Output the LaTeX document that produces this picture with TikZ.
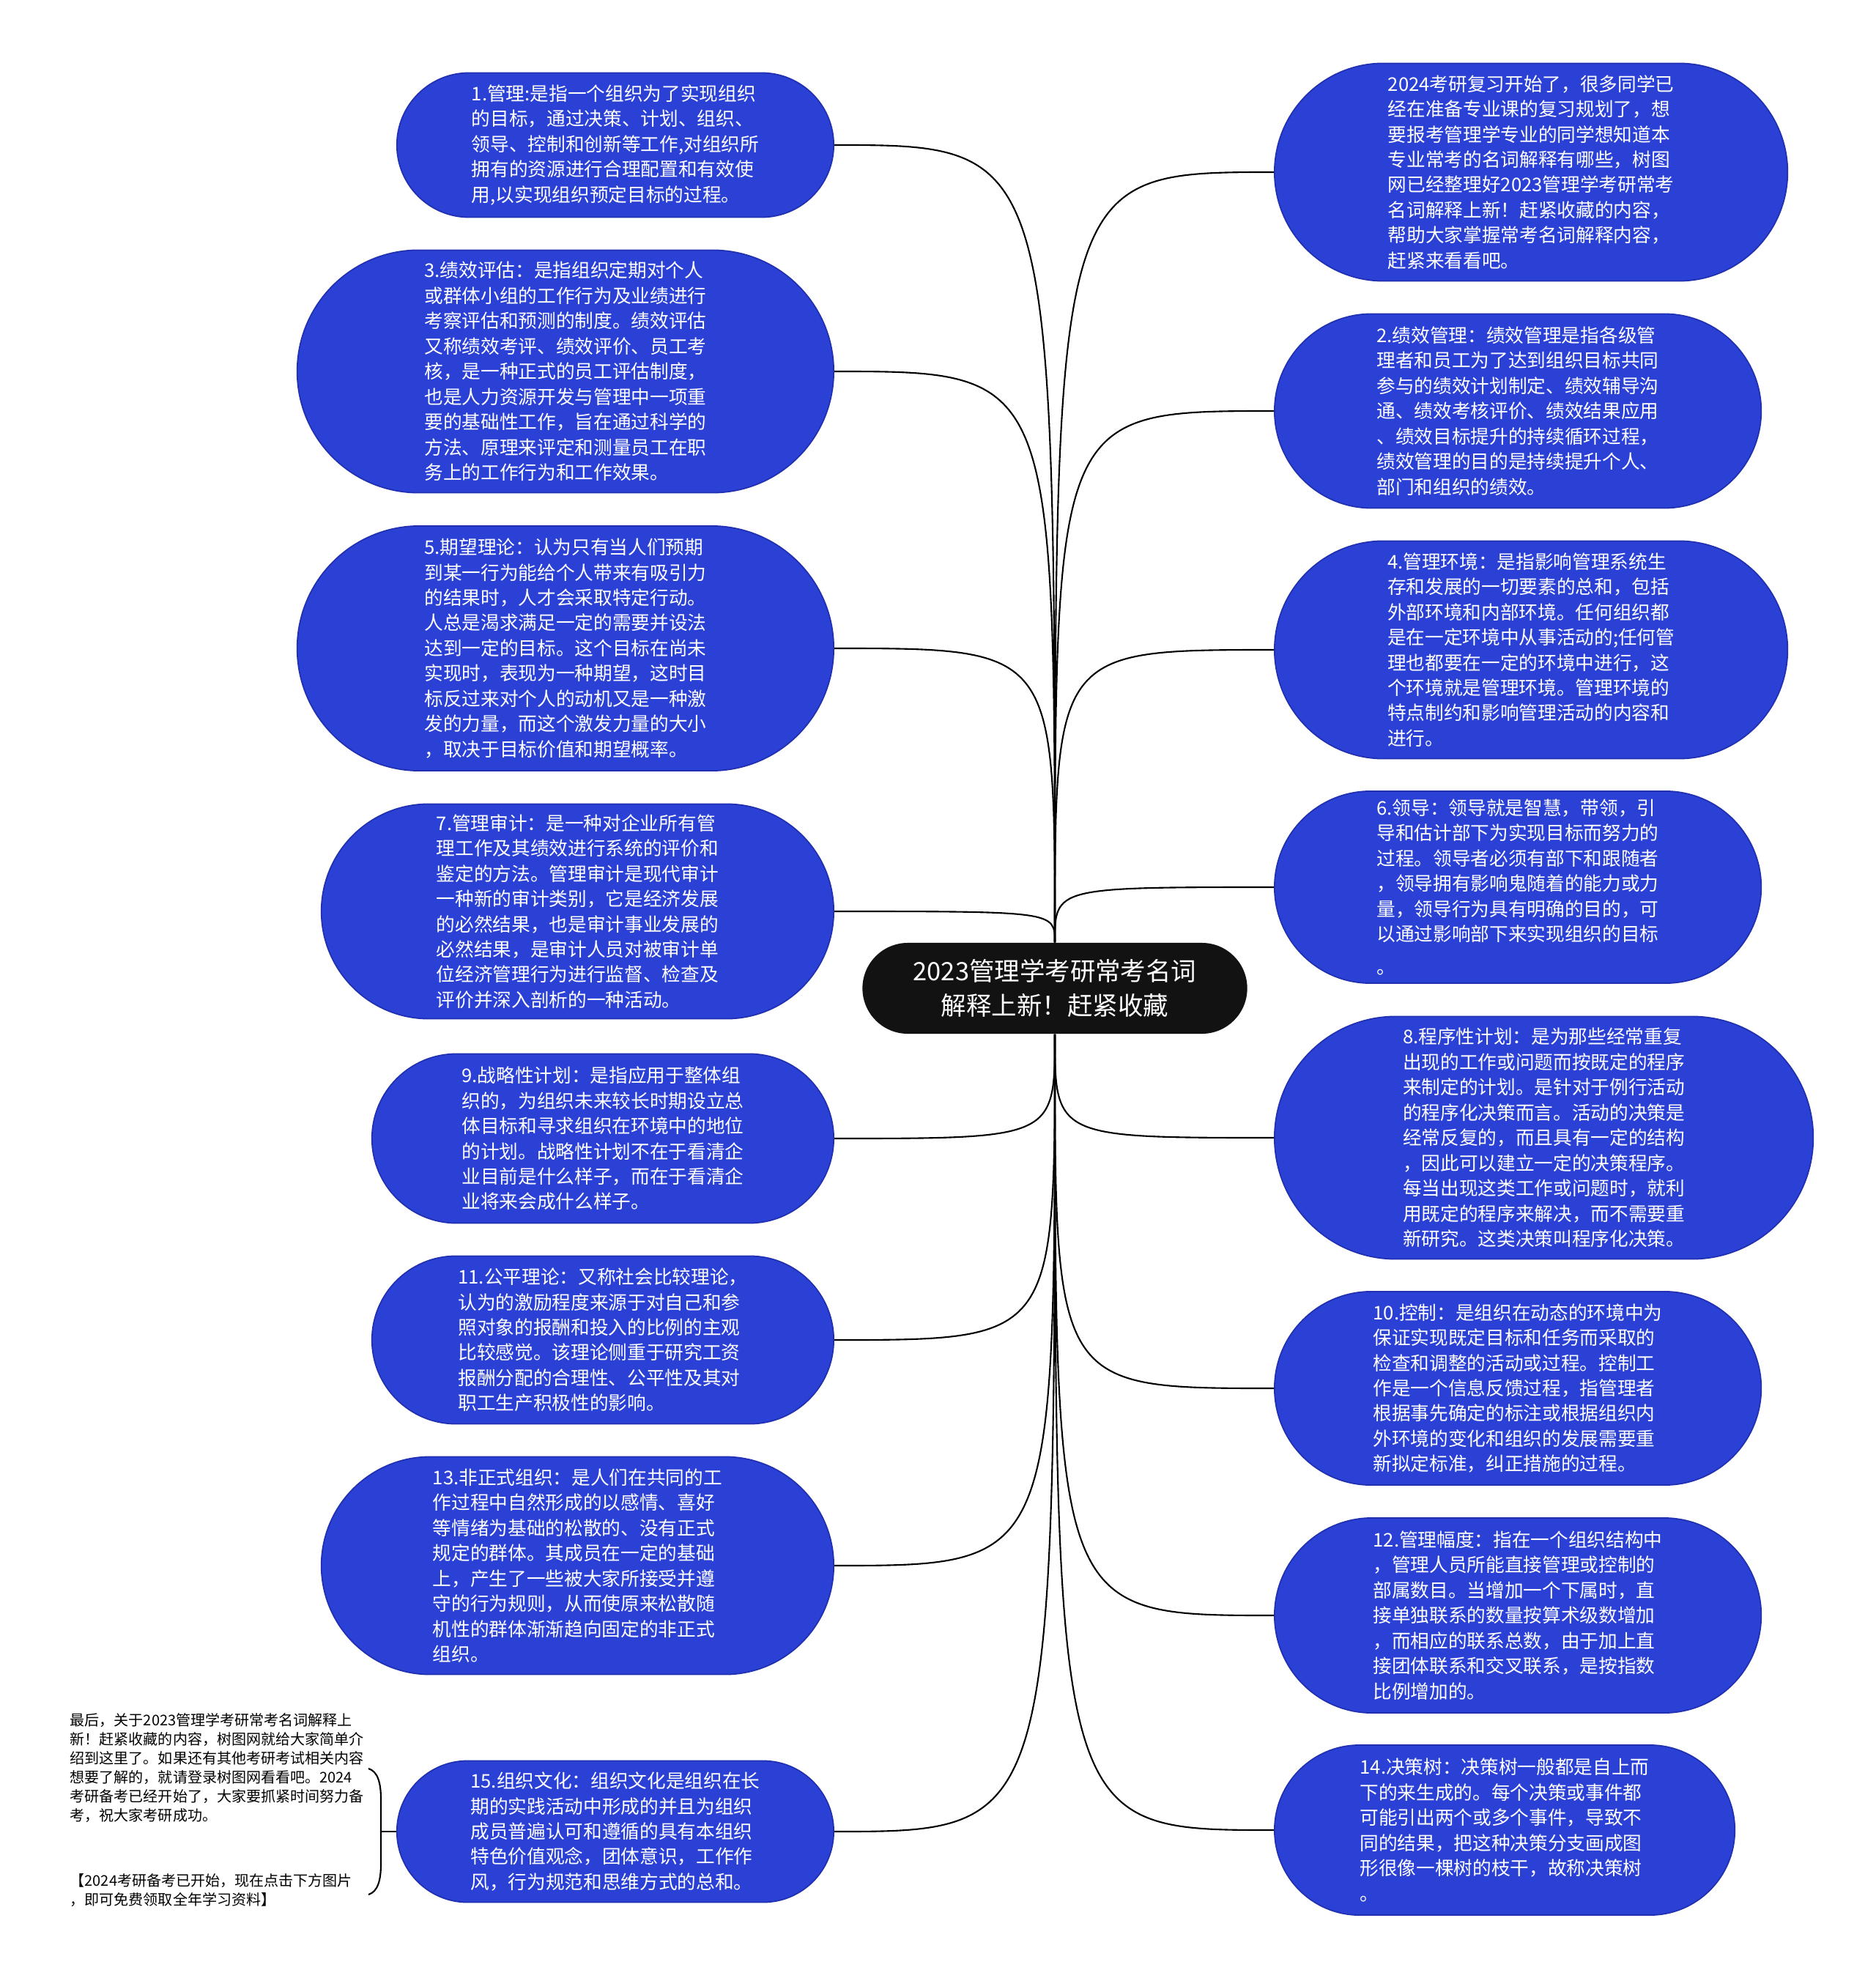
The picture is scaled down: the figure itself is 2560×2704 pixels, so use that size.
\documentclass[tikz,border=0pt]{standalone}
\usepackage{fontspec}
\newfontfamily\cjk{Noto Sans CJK SC}
\definecolor{termblue}{HTML}{2B41D6}
\definecolor{termedge}{HTML}{2030B0}
\definecolor{rootfill}{HTML}{121212}
\tikzset{
  term/.style n args={3}{draw=termedge, line width=0.5pt, fill=termblue, text=white,
    font=\cjk\fontsize{7.3}{9.8}\selectfont, align=left, inner sep=0pt,
    minimum width=#1cm, minimum height=#2cm, rounded corners=#3cm},
  root/.style={fill=rootfill, text=white, font=\cjk\fontsize{9.8}{13.2}\selectfont,
    align=center, inner sep=0pt, minimum width=5.25cm, minimum height=1.24cm, rounded corners=0.62cm},
  link/.style={line width=0.6pt, black},
  note/.style={font=\cjk\fontsize{5.7}{7.4}\selectfont, align=left, inner sep=0pt, anchor=north west}
}
\begin{document}
\begin{tikzpicture}[x=0.01cm, y=-0.01cm]
  \path[use as bounding box, fill=white] (0,0) rectangle (2560,2704);
  \node[root] (root) at (1440,1349) {2023管理学考研常考名词\\解释上新！赶紧收藏};
  \node[term={5.96}{1.97}{0.985}, anchor=east] (t1) at (1139,198) {1.管理:是指一个组织为了实现组织\\的目标，通过决策、计划、组织、\\领导、控制和创新等工作,对组织所\\拥有的资源进行合理配置和有效使\\用,以实现组织预定目标的过程。};
  \node[term={7.32}{3.31}{1.655}, anchor=east] (t3) at (1139,507) {3.绩效评估：是指组织定期对个人\\或群体小组的工作行为及业绩进行\\考察评估和预测的制度。绩效评估\\又称绩效考评、绩效评价、员工考\\核，是一种正式的员工评估制度，\\也是人力资源开发与管理中一项重\\要的基础性工作，旨在通过科学的\\方法、原理来评定和测量员工在职\\务上的工作行为和工作效果。};
  \node[term={7.32}{3.34}{1.67}, anchor=east] (t5) at (1139,885) {5.期望理论：认为只有当人们预期\\到某一行为能给个人带来有吸引力\\的结果时，人才会采取特定行动。\\人总是渴求满足一定的需要并设法\\达到一定的目标。这个目标在尚未\\实现时，表现为一种期望，这时目\\标反过来对个人的动机又是一种激\\发的力量，而这个激发力量的大小\\，取决于目标价值和期望概率。};
  \node[term={6.99}{2.93}{1.465}, anchor=east] (t7) at (1139,1244) {7.管理审计：是一种对企业所有管\\理工作及其绩效进行系统的评价和\\鉴定的方法。管理审计是现代审计\\一种新的审计类别，它是经济发展\\的必然结果，也是审计事业发展的\\必然结果，是审计人员对被审计单\\位经济管理行为进行监督、检查及\\评价并深入剖析的一种活动。};
  \node[term={6.30}{2.31}{1.155}, anchor=east] (t9) at (1139,1554) {9.战略性计划：是指应用于整体组\\织的，为组织未来较长时期设立总\\体目标和寻求组织在环境中的地位\\的计划。战略性计划不在于看清企\\业目前是什么样子，而在于看清企\\业将来会成什么样子。};
  \node[term={6.30}{2.29}{1.145}, anchor=east] (t11) at (1139,1829) {11.公平理论：又称社会比较理论，\\认为的激励程度来源于对自己和参\\照对象的报酬和投入的比例的主观\\比较感觉。该理论侧重于研究工资\\报酬分配的合理性、公平性及其对\\职工生产积极性的影响。};
  \node[term={6.99}{2.97}{1.485}, anchor=east] (t13) at (1139,2137) {13.非正式组织：是人们在共同的工\\作过程中自然形成的以感情、喜好\\等情绪为基础的松散的、没有正式\\规定的群体。其成员在一定的基础\\上，产生了一些被大家所接受并遵\\守的行为规则，从而使原来松散随\\机性的群体渐渐趋向固定的非正式\\组织。};
  \node[term={5.96}{1.93}{0.965}, anchor=east] (t15) at (1139,2500) {15.组织文化：组织文化是组织在长\\期的实践活动中形成的并且为组织\\成员普遍认可和遵循的具有本组织\\特色价值观念，团体意识，工作作\\风，行为规范和思维方式的总和。};
  \node[term={7.00}{2.97}{1.485}, anchor=west] (intro) at (1739,235) {2024考研复习开始了，很多同学已\\经在准备专业课的复习规划了，想\\要报考管理学专业的同学想知道本\\专业常考的名词解释有哪些，树图\\网已经整理好2023管理学考研常考\\名词解释上新！赶紧收藏的内容，\\帮助大家掌握常考名词解释内容，\\赶紧来看看吧。};
  \node[term={6.64}{2.65}{1.325}, anchor=west] (t2) at (1739,561) {2.绩效管理：绩效管理是指各级管\\理者和员工为了达到组织目标共同\\参与的绩效计划制定、绩效辅导沟\\通、绩效考核评价、绩效结果应用\\、绩效目标提升的持续循环过程，\\绩效管理的目的是持续提升个人、\\部门和组织的绩效。};
  \node[term={7.00}{2.97}{1.485}, anchor=west] (t4) at (1739,887) {4.管理环境：是指影响管理系统生\\存和发展的一切要素的总和，包括\\外部环境和内部环境。任何组织都\\是在一定环境中从事活动的;任何管\\理也都要在一定的环境中进行，这\\个环境就是管理环境。管理环境的\\特点制约和影响管理活动的内容和\\进行。};
  \node[term={6.64}{2.62}{1.31}, anchor=west] (t6) at (1739,1211) {6.领导：领导就是智慧，带领，引\\导和估计部下为实现目标而努力的\\过程。领导者必须有部下和跟随者\\，领导拥有影响鬼随着的能力或力\\量，领导行为具有明确的目的，可\\以通过影响部下来实现组织的目标\\[3pt]。};
  \node[term={7.35}{3.31}{1.655}, anchor=west] (t8) at (1739,1553) {8.程序性计划：是为那些经常重复\\出现的工作或问题而按既定的程序\\来制定的计划。是针对于例行活动\\的程序化决策而言。活动的决策是\\经常反复的，而且具有一定的结构\\，因此可以建立一定的决策程序。\\每当出现这类工作或问题时，就利\\用既定的程序来解决，而不需要重\\新研究。这类决策叫程序化决策。};
  \node[term={6.64}{2.64}{1.32}, anchor=west] (t10) at (1739,1895) {10.控制：是组织在动态的环境中为\\保证实现既定目标和任务而采取的\\检查和调整的活动或过程。控制工\\作是一个信息反馈过程，指管理者\\根据事先确定的标注或根据组织内\\外环境的变化和组织的发展需要重\\新拟定标准，纠正措施的过程。};
  \node[term={6.64}{2.66}{1.33}, anchor=west] (t12) at (1739,2205) {12.管理幅度：指在一个组织结构中\\，管理人员所能直接管理或控制的\\部属数目。当增加一个下属时，直\\接单独联系的数量按算术级数增加\\，而相应的联系总数，由于加上直\\接团体联系和交叉联系，是按指数\\比例增加的。};
  \node[term={6.28}{2.32}{1.16}, anchor=west] (t14) at (1739,2498) {14.决策树：决策树一般都是自上而\\下的来生成的。每个决策或事件都\\可能引出两个或多个事件，导致不\\同的结果，把这种决策分支画成图\\形很像一棵树的枝干，故称决策树\\。};
  \node[note] (note1) at (95,2338) {最后，关于2023管理学考研常考名词解释上\\新！赶紧收藏的内容，树图网就给大家简单介\\绍到这里了。如果还有其他考研考试相关内容\\想要了解的，就请登录树图网看看吧。2024\\考研备考已经开始了，大家要抓紧时间努力备\\考，祝大家考研成功。};
  \node[note] (note2) at (95,2557) {【2024考研备考已开始，现在点击下方图片\\，即可免费领取全年学习资料】};
  \foreach \n in {t1,t3,t5,t7}
    \draw[link] (root.north) .. controls (root.north |- \n.east) .. (\n.east);
  \foreach \n in {t9,t11,t13,t15}
    \draw[link] (root.south) .. controls (root.south |- \n.east) .. (\n.east);
  \foreach \n in {intro,t2,t4,t6}
    \draw[link] (root.north) .. controls (root.north |- \n.west) .. (\n.west);
  \foreach \n in {t8,t10,t12,t14}
    \draw[link] (root.south) .. controls (root.south |- \n.west) .. (\n.west);
  \coordinate (brace) at (520,2500);
  \draw[link] (503,2414) .. controls (516,2418) and (520,2434) .. (520,2456) -- (brace) -- (520,2544) .. controls (520,2566) and (516,2582) .. (503,2586);
  \draw[link] (brace) -- (t15.west);
\end{tikzpicture}
\end{document}
